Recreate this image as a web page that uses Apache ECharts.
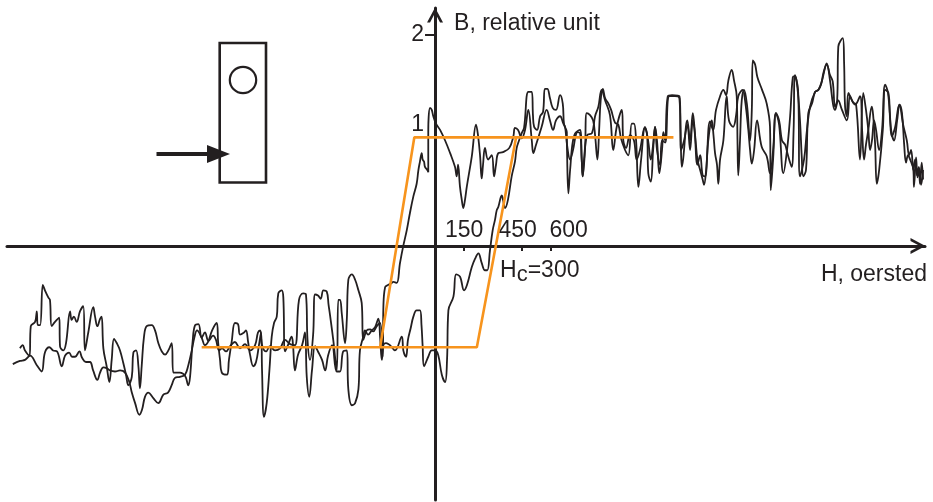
<!DOCTYPE html>
<html>
<head>
<meta charset="utf-8">
<script src="https://cdn.jsdelivr.net/npm/echarts@6.0.0/dist/echarts.min.js"></script>
<style>
html,body{margin:0;padding:0;background:#fff;}
#chart{width:933px;height:502px;}
</style>
</head>
<body>
<div id="chart"></div>
<script>
// ---- data (H in oersted, B in relative units) ----
const xTicks = [150, 450, 600];
const yTickValues = [2];
const yLabelValues = [1, 2];

// rising branch (field increasing)
const risingBranch = [[-2182,-1.12],[-2145,-1.09],[-2119,-1.08],[-2093,-1.04],[-2058,-1.13],[-2033,-1.19],[-2016,-1.01],[-1993,-0.96],[-1974,-0.99],[-1953,-1.00],[-1929,-1.14],[-1912,-1.04],[-1891,-1.01],[-1876,-1.05],[-1860,-1.05],[-1838,-1.00],[-1824,-1.06],[-1804,-1.10],[-1783,-1.10],[-1767,-1.18],[-1745,-1.27],[-1731,-1.20],[-1714,-1.15],[-1695,-1.16],[-1680,-1.18],[-1654,-1.19],[-1628,-1.18],[-1602,-1.20],[-1580,-1.29],[-1567,-1.39],[-1550,-1.49],[-1528,-1.60],[-1514,-1.55],[-1499,-1.43],[-1482,-1.39],[-1457,-1.44],[-1430,-1.49],[-1404,-1.41],[-1380,-1.39],[-1361,-1.32],[-1344,-1.25],[-1318,-1.24],[-1292,-1.22],[-1275,-1.13],[-1257,-0.99],[-1244,-0.87],[-1230,-0.80],[-1206,-0.87],
[-1189,-0.94],[-1173,-0.91],[-1152,-0.80],[-1128,-0.73],[-1121,-0.91],[-1111,-1.08],[-1102,-1.20],[-1076,-1.22],[-1065,-1.08],[-1051,-0.91],[-1034,-0.73],[-1018,-0.74],[-1008,-0.84],[-987,-0.82],[-977,-0.80],[-966,-0.91],[-956,-1.03],[-939,-1.14],[-925,-1.10],[-910,-0.94],[-899,-0.82],[-894,-1.18],[-884,-1.62],[-870,-1.49],[-856,-1.18],[-844,-0.86],[-832,-0.73],[-818,-0.67],[-810,-0.45],[-792,-0.42],[-784,-0.49],[-775,-1.00],[-760,-0.94],[-741,-0.86],[-734,-0.94],[-724,-1.18],[-708,-1.03],[-687,-0.94],[-672,-0.82],[-663,-1.24],[-650,-1.43],[-636,-1.18],[-620,-0.95],[-605,-1.00],[-584,-1.08],[-568,-1.18],[-553,-1.04],[-532,-0.94],[-508,-1.19],[-491,-1.19],[-475,-1.00],[-456,-0.99],[-448,-1.36],[-430,-1.51],[-413,-1.49],[-396,-1.36],[-388,-0.99],[-371,-0.86],[-362,-0.80],[-346,-0.84],[-327,-0.80],[-310,-0.77],[-293,-0.69],[-284,-0.86],[-275,-1.08],[-267,-0.94],[-253,-0.92],[-233,-0.94],[-207,-0.99],[-172,-0.86],[-164,-0.99],[-150,-1.05],[-140,-0.89],[-126,-0.78],[-112,-0.67],[-95,-0.61],[-78,-0.61],[-70,-0.75],[-64,-0.95],[-57,-1.14],[-35,-1.05],[-17,-0.99],[0,-0.99],[16,-1.03],[35,-1.22],[52,-1.29],[62,-1.08],[69,-0.61],[95,-0.48],[109,-0.27],[129,-0.29],[150,-0.42],[165,-0.37],[190,-0.20],[207,-0.12],[224,-0.07],[241,-0.16],[258,-0.23],[270,-0.23],[284,-0.04],[298,0.15],[310,0.25],[319,0.34],[327,0.37],[345,0.48],[351,0.44],[362,0.36],[377,0.44],[396,0.66],[413,0.80],[422,0.93],[434,1.00],[448,1.07],[460,1.12],[482,1.46],[500,1.46],[506,1.24],[512,1.13],[527,1.10],[543,1.23],[558,1.27],[568,1.49],[580,1.49],[594,1.40],[608,1.31],[625,1.29],[646,1.43],[660,1.35],[667,1.15],[681,1.08],[682,0.91],[689,0.50],[698,0.72],[713,1.00],[732,1.08],[749,1.07],[758,0.82],[763,0.66],[775,0.91],[784,1.26],[801,1.24],[817,1.19],[827,1.05],[839,0.82],[848,1.10],[856,1.38],[867,1.49],[879,1.40],[896,1.35],[910,1.29],[930,1.17],[947,1.15],[961,1.02],[982,0.91],[999,0.86],[1017,1.16],[1028,1.16],[1039,1.00],[1051,0.56],[1065,0.82],[1085,1.12],[1096,1.05],[1102,0.69],[1115,0.61],[1127,0.91],[1137,1.13],[1147,1.00],[1159,0.69],[1173,0.91],[1180,1.08],[1189,1.00],[1203,1.42],[1225,1.43],[1263,1.42],[1269,1.10],[1275,0.75],[1282,0.82],[1304,1.19],[1318,1.00],[1332,1.26],[1344,1.05],[1356,0.82],[1370,0.72],[1383,0.63],[1390,0.58],[1401,0.72],[1421,1.18],[1437,1.10],[1452,1.29],[1473,1.42],[1490,1.48],[1504,1.43],[1516,1.57],[1533,1.67],[1545,1.57],[1559,1.42],[1563,1.00],[1567,0.67],[1576,1.00],[1585,1.38],[1597,1.48],[1612,1.34],[1628,1.00],[1637,1.29],[1642,1.76],[1654,1.72],[1666,1.60],[1690,1.48],[1714,1.35],[1731,1.13],[1735,0.53],[1747,0.82],[1762,1.26],[1778,1.15],[1800,0.69],[1819,0.91],[1835,1.23],[1849,1.60],[1860,1.61],[1872,1.51],[1886,1.19],[1895,0.85],[1903,0.66],[1917,0.72],[1929,1.26],[1948,1.35],[1964,1.46],[1981,1.48],[1995,1.53],[2007,1.64],[2024,1.72],[2041,1.62],[2055,1.56],[2067,1.32],[2078,1.38],[2084,1.89],[2107,1.97],[2114,1.73],[2119,1.32],[2128,1.23],[2136,1.45],[2155,1.38],[2171,1.34],[2196,1.42],[2207,1.10],[2217,0.82],[2227,0.96],[2239,1.10],[2257,1.32],[2264,1.24],[2274,0.97],[2283,0.59],[2295,0.72],[2314,1.10],[2326,1.48],[2343,1.45],[2351,1.24],[2360,1.04],[2377,1.12],[2400,1.34],[2413,1.26],[2424,0.97],[2434,0.79],[2444,0.86],[2455,0.82],[2472,0.72],[2475,0.56],[2486,0.84],[2493,0.65],[2500,0.75],[2506,0.59],[2515,0.79],[2522,0.63]];

// falling branch (field decreasing)
const fallingBranch = [[-2145,-0.97],[-2131,-0.94],[-2119,-0.99],[-2096,-1.04],[-2089,-0.76],[-2067,-0.72],[-2058,-0.62],[-2053,-0.75],[-2041,-0.75],[-2027,-0.37],[-2016,-0.42],[-1998,-0.49],[-1990,-0.51],[-1981,-0.76],[-1964,-0.72],[-1942,-0.68],[-1938,-0.95],[-1921,-0.99],[-1907,-0.92],[-1886,-0.62],[-1878,-0.70],[-1866,-0.67],[-1852,-0.72],[-1835,-0.62],[-1818,-0.57],[-1809,-0.99],[-1792,-0.82],[-1766,-0.58],[-1757,-0.67],[-1745,-0.76],[-1731,-0.69],[-1723,-0.67],[-1714,-0.97],[-1697,-1.14],[-1683,-1.29],[-1671,-1.08],[-1659,-0.88],[-1645,-0.92],[-1628,-0.99],[-1611,-1.11],[-1597,-1.22],[-1585,-1.32],[-1567,-1.24],[-1559,-1.01],[-1545,-0.99],[-1533,-1.14],[-1525,-1.35],[-1516,-1.14],[-1504,-0.86],[-1490,-0.76],[-1464,-0.75],[-1447,-0.80],[-1430,-0.92],[-1412,-1.00],[-1395,-1.03],[-1378,-0.99],[-1361,-0.92],[-1352,-1.20],[-1318,-1.20],[-1292,-1.23],[-1275,-1.32],[-1266,-1.24],[-1252,-0.89],[-1240,-0.75],[-1223,-0.74],[-1206,-0.87],
[-1189,-0.82],[-1171,-0.90],[-1147,-0.85],[-1132,-0.89],[-1116,-0.99],[-1101,-0.97],[-1080,-1.00],[-1059,-0.95],[-1034,-0.91],[-1008,-0.97],[-982,-0.93],[-956,-0.99],[-930,-0.94],[-915,-0.82],[-904,-0.80],[-894,-0.94],[-873,-1.00],[-853,-0.95],[-827,-0.99],[-801,-0.97],[-775,-0.89],[-749,-0.93],[-724,-0.94],[-703,-0.51],[-681,-0.45],[-667,-0.46],[-659,-0.89],[-646,-1.08],[-630,-0.84],[-620,-0.46],[-605,-0.47],[-591,-0.50],[-577,-0.42],[-560,-0.43],[-550,-0.56],[-543,-0.65],[-526,-0.89],[-508,-1.18],[-500,-0.51],[-491,-0.51],[-482,-0.64],[-465,-0.92],[-456,-0.70],[-448,-0.32],[-430,-0.27],[-413,-0.32],[-396,-0.42],[-379,-0.54],[-371,-0.89],[-353,-0.80],[-336,-0.79],[-320,-0.81],[-301,-0.76],[-284,-0.73],[-270,-1.05],[-267,-0.58],[-258,-0.39],[-243,-0.37],[-224,-0.35],[-216,-0.34],[-198,-0.35],[-181,-0.16],[-163,0.01],[-146,0.15],[-129,0.32],[-112,0.47],[-95,0.59],[-86,0.72],[-78,0.80],[-69,0.88],[-64,0.82],[-57,0.80],[-52,0.75],[-40,0.72],[-35,0.70],[-35,1.07],[-26,1.31],[-17,1.29],[-9,1.23],[5,1.16],[26,1.10],[52,1.00],[78,0.88],[103,0.75],[112,0.66],[119,0.77],[129,0.56],[138,0.44],[146,0.36],[155,0.44],[164,0.56],[190,0.85],[212,1.15],[222,1.05],[233,0.85],[241,0.64],[248,0.77],[258,0.93],[274,0.82],[293,0.86],[305,0.66],[315,0.77],[327,0.88],[351,0.89],[384,0.93],[405,1.04],[413,1.12],[429,1.10],[448,1.02],[465,1.10],
[482,1.29],[500,1.00],[508,0.88],[522,0.96],[551,1.13],[577,1.29],[594,1.19],[610,1.10],[625,1.19],[646,1.23],[663,1.16],[672,1.13],[682,0.96],[698,0.82],[713,0.91],[732,1.08],[749,1.10],[758,0.82],[763,0.66],[770,0.82],[786,1.05],[811,1.07],[827,1.23],[844,1.32],[861,1.48],[879,1.38],[904,1.24],[921,0.91],[939,1.13],[965,1.29],[973,1.00],[987,0.93],[1008,1.05],[1028,1.00],[1042,0.82],[1059,0.91],[1085,1.13],[1101,1.00],[1115,0.82],[1127,0.96],[1137,1.13],[1147,0.91],[1163,0.77],[1173,1.00],[1189,0.98],[1211,1.42],[1240,1.42],[1263,1.40],[1272,0.91],[1287,1.00],[1304,1.15],[1318,0.91],[1332,1.19],[1341,1.10],[1356,0.77],[1370,0.86],[1383,0.67],[1395,0.66],[1412,1.00],[1430,1.19],[1439,1.05],[1447,0.88],[1457,0.77],[1464,0.59],[1473,0.82],[1490,1.00],[1507,1.42],[1519,1.19],[1540,1.13],[1556,1.24],[1567,1.42],[1590,1.48],[1602,1.38],[1619,1.10],[1628,0.91],[1637,0.78],[1649,0.91],[1664,1.19],[1688,0.94],[1714,0.85],[1731,0.69],[1747,0.91],[1762,1.26],[1778,1.19],[1793,1.00],[1809,0.96],[1821,0.88],[1830,0.82],[1843,0.75],[1853,1.10],[1860,1.62],[1876,1.48],[1886,0.66],[1907,0.82],[1922,1.10],[1938,1.32],[1964,1.46],[1981,1.48],[2000,1.57],[2024,1.73],[2041,1.57],[2057,1.34],[2067,1.29],[2083,1.38],[2103,1.29],[2128,1.19],[2145,1.42],[2160,1.36],[2176,1.34],[2196,0.82],[2213,1.45],[2227,1.29],[2239,1.10],[2248,0.91],[2258,1.00],[2269,1.19],[2279,1.10],[2295,0.91],[2310,1.10],[2326,1.53],[2341,1.45],[2357,1.10],[2372,1.00],[2388,1.19],[2400,1.34],[2419,1.15],[2438,1.00],[2450,0.86],[2460,0.91],[2472,0.72],[2481,0.82],[2491,0.67],[2501,0.74],[2512,0.58],[2522,0.72]];

// idealised rectangular loop (orange)
const loopH = [-1206, 216, 419, 1232, -107, -284];
const loopB = [-0.96, -0.96, 1.03, 1.03, 1.03, -0.96];

// coercive-field annotation
const hcValue = 300;
const hcAnchor = [336, -0.237];

// ---- chart ----
const X_MIN = -2212, X_MAX = 2532, Y_MIN = -2.408, Y_MAX = 2.256;
const GRID = {left: 7, top: 8, width: 918, height: 492};
// move the axes onto the zero lines (computed from the axis ranges)
const xAxisOffset = -GRID.height * (0 - Y_MIN) / (Y_MAX - Y_MIN);
const yAxisOffset = -GRID.width * (0 - X_MIN) / (X_MAX - X_MIN);

const INK = '#231f20';
const FONT = '"Liberation Sans", Arial, Helvetica, sans-serif';
const chevron = 'path://M0,15 L8,0 L16,15 L13,15 L8,5.6 L3,15 Z';

const chart = echarts.init(document.getElementById('chart'), null, {renderer: 'canvas'});

const option = {
  animation: false,
  backgroundColor: '#ffffff',
  grid: {left: GRID.left, top: GRID.top, width: GRID.width, height: GRID.height,
    containLabel: false, outerBoundsMode: 'none'},
  xAxis: {
    type: 'value', min: X_MIN, max: X_MAX, offset: xAxisOffset,
    splitLine: {show: false},
    axisLine: {onZero: false, lineStyle: {color: INK, width: 3},
      symbol: ['none', chevron], symbolSize: [16, 15], symbolOffset: [0, -7]},
    axisTick: {show: true, customValues: xTicks, length: 5, lineStyle: {color: INK, width: 2}},
    axisLabel: {show: true, customValues: xTicks, inside: true, margin: 4,
      color: INK, fontSize: 23, fontFamily: FONT,
      formatter: function (v) { return v === 600 ? '{c|600}' : (v === 450 ? '{b|450}' : '{a|' + v + '}'); },
      rich: {a: {color: INK}, b: {color: INK, padding: [0, 9, 0, 0]}, c: {color: INK, padding: [0, 0, 0, 35]}}}
  },
  yAxis: {
    type: 'value', min: Y_MIN, max: Y_MAX, offset: yAxisOffset,
    splitLine: {show: false},
    axisLine: {onZero: false, lineStyle: {color: INK, width: 3},
      symbol: ['none', chevron], symbolSize: [16, 15], symbolOffset: [0, -7]},
    axisTick: {show: true, customValues: yTickValues, length: 10, lineStyle: {color: INK, width: 2}},
    axisLabel: {show: true, customValues: yLabelValues, margin: 11,
      color: INK, fontSize: 23, fontFamily: FONT,
      formatter: function (v) { return v === 1 ? '{one|1}' : '{two|' + v + '}'; },
      rich: {one: {color: INK, padding: [0, 0, 32, 0]}, two: {color: INK}}},
    name: 'B, relative unit', nameLocation: 'end', nameGap: -16,
    nameTextStyle: {color: INK, fontSize: 23, fontFamily: FONT, align: 'left', verticalAlign: 'middle', padding: [0, 0, 0, 19]}
  },
  graphic: [
    {id: 'xname', type: 'text', style: {text: 'H, oersted', x: 927, y: 275, textAlign: 'right', textVerticalAlign: 'middle',
      font: '23px ' + FONT, fill: INK}},
    {id: 'box', type: 'rect', shape: {x: 219.7, y: 43, width: 46.3, height: 139.5},
      style: {fill: 'none', stroke: INK, lineWidth: 2.6}},
    {id: 'dot', type: 'circle', shape: {cx: 243, cy: 80, r: 13.2},
      style: {fill: 'none', stroke: INK, lineWidth: 2.2}},
    {id: 'shaft', type: 'line', shape: {x1: 156.5, y1: 154, x2: 210, y2: 154},
      style: {stroke: INK, lineWidth: 4.2}},
    {id: 'head', type: 'polygon', shape: {points: [[207, 145], [230, 154], [207, 163]]},
      style: {fill: INK}}
  ],
  series: [
    {type: 'line', data: risingBranch, symbol: 'none', smooth: 0.4, clip: false, silent: true,
      lineStyle: {color: INK, width: 1.8}, z: 2},
    {type: 'line', data: fallingBranch, symbol: 'none', smooth: 0.4, clip: false, silent: true,
      lineStyle: {color: INK, width: 1.8}, z: 2},
    {type: 'line', data: loopH.map(function (h, i) { return [h, loopB[i]]; }), symbol: 'none', clip: false, silent: true,
      lineStyle: {color: '#f7941d', width: 2.6}, z: 3}
  ]
};
chart.setOption(option);

// coercive-field label, anchored at its data position
const hcPx = chart.convertToPixel({gridIndex: 0}, hcAnchor);
chart.setOption({
  graphic: [{
    id: 'hc', type: 'text', x: hcPx[0], y: hcPx[1], z: 10,
    style: {
      text: '{n|H}{s|c}{n|=' + hcValue + '}',
      textAlign: 'left', textVerticalAlign: 'middle', fill: INK, font: '23px ' + FONT,
      rich: {
        n: {fill: INK, fontSize: 23, fontFamily: FONT},
        s: {fill: INK, fontSize: 22, fontFamily: FONT, padding: [8, 0, 0, 0]}
      }
    }
  }]
});
</script>
</body>
</html>
